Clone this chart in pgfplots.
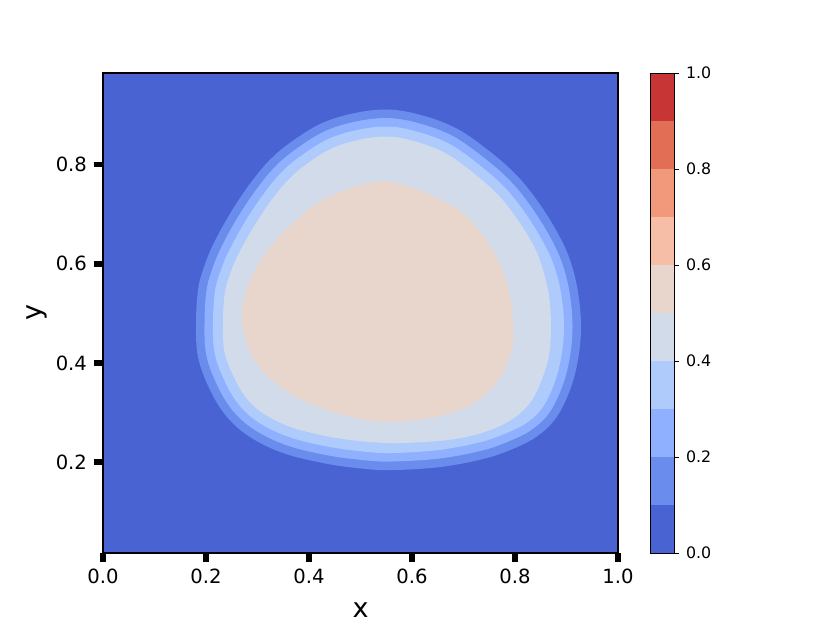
\documentclass[border=0pt]{standalone}
\usepackage{fontspec}
\setmainfont{DejaVu Sans}
\usepackage{pgfplots}
\pgfplotsset{compat=1.18}

% contour band colours (0.0-0.1 ... 0.9-1.0)
\definecolor{lv0}{RGB}{74,99,211}
\definecolor{lv1}{RGB}{105,140,237}
\definecolor{lv2}{RGB}{142,176,254}
\definecolor{lv3}{RGB}{175,203,252}
\definecolor{lv4}{RGB}{210,219,233}
\definecolor{lv5}{RGB}{232,214,205}
\definecolor{lv6}{RGB}{246,190,166}
\definecolor{lv7}{RGB}{242,153,123}
\definecolor{lv8}{RGB}{227,110,86}
\definecolor{lv9}{RGB}{200,53,53}

\pgfplotsset{
  onedec/.style={
    /pgf/number format/fixed,
    /pgf/number format/fixed zerofill,
    /pgf/number format/precision=1,
    /pgf/number format/assume math mode=true},
  band/.style={fill=#1, draw=none, smooth cycle, tension=0.6},
}

\begin{document}
\begin{tikzpicture}
\path[use as bounding box] (0,0) rectangle (415pt,311.5pt);

\begin{axis}[
  at={(51.5pt,35pt)}, anchor=south west,
  width=257.5pt, height=240pt, scale only axis,
  xmin=0, xmax=1, ymin=0.0165, ymax=0.985,
  axis background/.style={fill=lv0},
  axis line style={line width=0.6pt},
  xtick={0,0.2,0.4,0.6,0.8,1}, ytick={0.2,0.4,0.6,0.8},
  xtick pos=bottom, ytick pos=left, tick align=outside,
  major tick length=4.5pt,
  tick style={line width=2.7pt, black},
  onedec,
  tick label style={font=\fontsize{9.8}{11}\selectfont},
  xlabel={x}, ylabel={y},
  xlabel style={font=\fontsize{13.5}{16}\selectfont, at={(axis description cs:0.5,-0.119)}, anchor=center},
  ylabel style={font=\fontsize{13.5}{16}\selectfont, at={(axis description cs:-0.128,0.5)}, anchor=center},
  axis on top,
]
% level 0.1
\addplot[band=lv1] coordinates {
(0.5573,0.9111) (0.6214,0.8990) (0.6874,0.8727) (0.7515,0.8263) (0.8039,0.7778)
(0.8447,0.7253) (0.8816,0.6646) (0.9068,0.6081) (0.9223,0.5434) (0.9282,0.4727)
(0.9223,0.4061) (0.9068,0.3455) (0.8796,0.2889) (0.8408,0.2505) (0.7903,0.2242)
(0.7379,0.2061) (0.6544,0.1899) (0.5573,0.1838) (0.4932,0.1879) (0.4272,0.1980)
(0.3495,0.2182) (0.2854,0.2505) (0.2408,0.2909) (0.2078,0.3455) (0.1845,0.4121)
(0.1806,0.4808) (0.1845,0.5475) (0.1942,0.5879) (0.2136,0.6384) (0.2466,0.7010)
(0.2854,0.7616) (0.3243,0.8101) (0.3689,0.8485) (0.4272,0.8848) (0.4932,0.9051)
};
% level 0.2
\addplot[band=lv2] coordinates {
(0.5573,0.8939) (0.6181,0.8822) (0.6808,0.8570) (0.7416,0.8125) (0.7922,0.7657)
(0.8315,0.7150) (0.8672,0.6560) (0.8913,0.6022) (0.9062,0.5406) (0.9117,0.4727)
(0.9062,0.4095) (0.8917,0.3523) (0.8664,0.2992) (0.8309,0.2642) (0.7837,0.2400)
(0.7338,0.2226) (0.6528,0.2071) (0.5573,0.2010) (0.4950,0.2051) (0.4305,0.2147)
(0.3553,0.2343) (0.2946,0.2648) (0.2532,0.3022) (0.2227,0.3529) (0.2006,0.4156)
(0.1971,0.4808) (0.2006,0.5440) (0.2099,0.5826) (0.2282,0.6303) (0.2604,0.6917)
(0.2986,0.7513) (0.3361,0.7980) (0.3781,0.8341) (0.4330,0.8687) (0.4957,0.8881)
};
% level 0.3
\addplot[band=lv3] coordinates {
(0.5573,0.8768) (0.6148,0.8652) (0.6742,0.8412) (0.7317,0.7988) (0.7808,0.7533)
(0.8183,0.7046) (0.8528,0.6475) (0.8757,0.5964) (0.8899,0.5376) (0.8951,0.4727)
(0.8899,0.4129) (0.8765,0.3592) (0.8532,0.3095) (0.8210,0.2780) (0.7771,0.2558)
(0.7297,0.2394) (0.6511,0.2242) (0.5573,0.2182) (0.4965,0.2222) (0.4338,0.2317)
(0.3612,0.2505) (0.3037,0.2790) (0.2656,0.3135) (0.2375,0.3606) (0.2169,0.4190)
(0.2136,0.4808) (0.2169,0.5406) (0.2256,0.5776) (0.2427,0.6222) (0.2744,0.6824)
(0.3118,0.7410) (0.3480,0.7861) (0.3872,0.8200) (0.4388,0.8525) (0.4983,0.8711)
};
% level 0.4
\addplot[band=lv4] coordinates {
(0.5573,0.8566) (0.6109,0.8455) (0.6664,0.8226) (0.7200,0.7826) (0.7672,0.7390)
(0.8027,0.6925) (0.8359,0.6374) (0.8534,0.5909) (0.8660,0.5354) (0.8699,0.4727)
(0.8660,0.4162) (0.8532,0.3697) (0.8330,0.3253) (0.8058,0.2949) (0.7709,0.2727)
(0.7282,0.2566) (0.6835,0.2465) (0.6252,0.2404) (0.5573,0.2384) (0.4984,0.2424)
(0.4377,0.2515) (0.3680,0.2695) (0.3144,0.2958) (0.2802,0.3269) (0.2550,0.3695)
(0.2359,0.4230) (0.2330,0.4808) (0.2359,0.5366) (0.2441,0.5715) (0.2598,0.6127)
(0.2907,0.6715) (0.3274,0.7289) (0.3620,0.7719) (0.3979,0.8032) (0.4456,0.8335)
(0.5010,0.8511)
};
% level 0.5
\addplot[band=lv5] coordinates {
(0.5573,0.7657) (0.6214,0.7455) (0.6874,0.7111) (0.7184,0.6828) (0.7515,0.6364)
(0.7767,0.5838) (0.7903,0.5333) (0.7961,0.4828) (0.7942,0.4323) (0.7767,0.3798)
(0.7456,0.3394) (0.7068,0.3111) (0.6544,0.2929) (0.5903,0.2828) (0.5573,0.2808)
(0.5126,0.2848) (0.4466,0.3010) (0.3825,0.3273) (0.3301,0.3636) (0.2913,0.4101)
(0.2738,0.4606) (0.2699,0.4970) (0.2718,0.5172) (0.2757,0.5374) (0.2835,0.5616)
(0.2951,0.5879) (0.3107,0.6141) (0.3301,0.6404) (0.3534,0.6667) (0.3806,0.6929)
(0.4117,0.7192) (0.4466,0.7394) (0.4835,0.7535) (0.5223,0.7636)
};
\end{axis}

% colorbar
\begin{axis}[
  at={(325pt,35pt)}, anchor=south west,
  width=12pt, height=240pt, scale only axis,
  xmin=0, xmax=1, ymin=0, ymax=1,
  xtick=\empty, ytick={0,0.2,0.4,0.6,0.8,1},
  ytick pos=right, yticklabel pos=right, tick align=outside,
  major tick length=2.5pt,
  tick style={line width=0.5pt, black},
  axis line style={line width=0.5pt},
  onedec,
  yticklabel style={font=\fontsize{7.9}{9}\selectfont},
  axis on top,
]
\addplot[fill=lv0, draw=none] coordinates {(0,0.0) (1,0.0) (1,0.1) (0,0.1)} -- cycle;
\addplot[fill=lv1, draw=none] coordinates {(0,0.1) (1,0.1) (1,0.2) (0,0.2)} -- cycle;
\addplot[fill=lv2, draw=none] coordinates {(0,0.2) (1,0.2) (1,0.3) (0,0.3)} -- cycle;
\addplot[fill=lv3, draw=none] coordinates {(0,0.3) (1,0.3) (1,0.4) (0,0.4)} -- cycle;
\addplot[fill=lv4, draw=none] coordinates {(0,0.4) (1,0.4) (1,0.5) (0,0.5)} -- cycle;
\addplot[fill=lv5, draw=none] coordinates {(0,0.5) (1,0.5) (1,0.6) (0,0.6)} -- cycle;
\addplot[fill=lv6, draw=none] coordinates {(0,0.6) (1,0.6) (1,0.7) (0,0.7)} -- cycle;
\addplot[fill=lv7, draw=none] coordinates {(0,0.7) (1,0.7) (1,0.8) (0,0.8)} -- cycle;
\addplot[fill=lv8, draw=none] coordinates {(0,0.8) (1,0.8) (1,0.9) (0,0.9)} -- cycle;
\addplot[fill=lv9, draw=none] coordinates {(0,0.9) (1,0.9) (1,1.0) (0,1.0)} -- cycle;
\end{axis}
\end{tikzpicture}
\end{document}
